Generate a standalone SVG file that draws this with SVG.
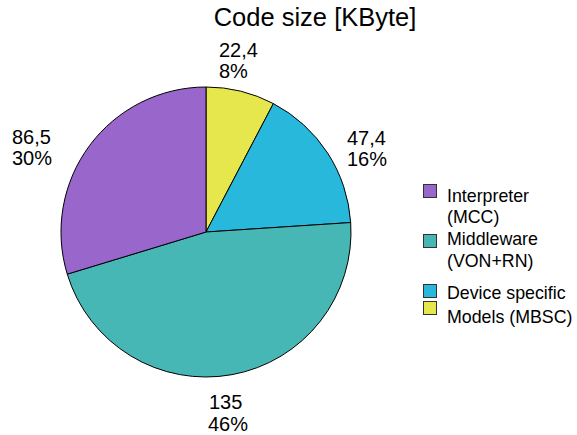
<svg xmlns="http://www.w3.org/2000/svg" width="577" height="435" viewBox="0 0 577 435">
<style>
text{font-family:"Liberation Sans",Arial,sans-serif;fill:#000}
.t{font-size:25.5px}
.l{font-size:20px}
.g{font-size:17.8px}
.s{stroke:#000;stroke-width:1}
.sq{stroke:#333;stroke-width:1}
</style>
<rect width="577" height="435" fill="#fff"/>
<text class="t" x="315" y="26" text-anchor="middle">Code size [KByte]</text>
<g id="slice-models">
<path class="s" fill="#E6E64D" d="M206,232 L206,87 A145,145 0 0 1 273.36,103.59 Z"/>
<text class="l" x="219" y="57">22,4</text>
<text class="l" x="219" y="78">8%</text>
</g>
<g id="slice-device">
<path class="s" fill="#28B8DC" d="M206,232 L273.36,103.59 A145,145 0 0 1 350.69,222.55 Z"/>
<text class="l" x="347" y="145">47,4</text>
<text class="l" x="347" y="166">16%</text>
</g>
<g id="slice-middleware">
<path class="s" fill="#47B7B5" d="M206,232 L350.69,222.55 A145,145 0 0 1 67.26,274.15 Z"/>
<text class="l" x="209" y="409">135</text>
<text class="l" x="208" y="431">46%</text>
</g>
<g id="slice-interpreter">
<path class="s" fill="#9966CC" d="M206,232 L67.26,274.15 A145,145 0 0 1 206,87 Z"/>
<text class="l" x="12" y="144">86,5</text>
<text class="l" x="12" y="165">30%</text>
</g>
<g id="legend">
<rect class="sq" x="423.5" y="184.5" width="13" height="13" fill="#9966CC"/>
<text class="g" x="447" y="202">Interpreter</text>
<text class="g" x="447" y="223">(MCC)</text>
<rect class="sq" x="423.5" y="234.5" width="13" height="13" fill="#47B7B5"/>
<text class="g" x="447" y="245">Middleware</text>
<text class="g" x="447" y="267">(VON+RN)</text>
<rect class="sq" x="423.5" y="284.5" width="13" height="13" fill="#28B8DC"/>
<text class="g" x="447" y="299">Device specific</text>
<rect class="sq" x="423.5" y="301.5" width="13" height="13" fill="#E6E64D"/>
<text class="g" x="447" y="323">Models (MBSC)</text>
</g>
</svg>
